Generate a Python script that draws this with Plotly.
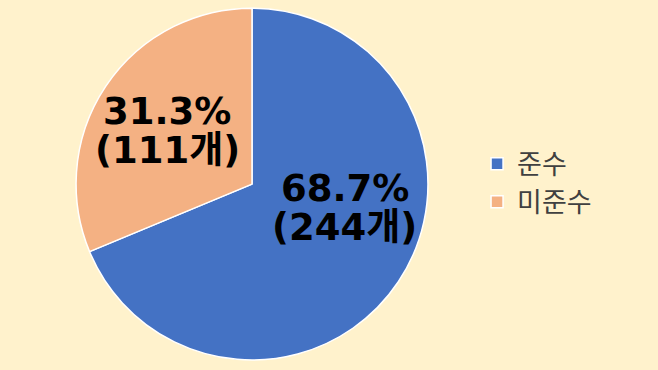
import plotly.graph_objects as go

labels = ["준수", "미준수"]
counts = [244, 111]
colors = ["#4472C4", "#F4B183"]

total = sum(counts)
pcts = [c / total * 100 for c in counts]

fig = go.Figure()
fig.add_trace(go.Pie(
    labels=labels,
    values=counts,
    sort=False,
    direction="clockwise",
    rotation=0,
    marker=dict(colors=colors, line=dict(color="white", width=1.5)),
    textinfo="none",
    domain=dict(x=[0.1155, 0.6505], y=[0.027, 0.978]),
    hoverinfo="skip",
))

# label anchor positions (paper coords) for each slice: (x, y of line 1, y of line 2)
label_pos = [(0.524, 0.492, 0.386), (0.2538, 0.700, 0.595)]
lab_font = dict(family="DejaVu Sans, Noto Sans CJK KR", size=37, color="black", weight="bold")
for c, p, (lx, ly1, ly2) in zip(counts, pcts, label_pos):
    fig.add_annotation(x=lx, y=ly1, xref="paper", yref="paper", text=f"{p:.1f}%",
                       showarrow=False, font=lab_font, xanchor="center", yanchor="middle",
                       height=38, borderpad=0)
    fig.add_annotation(x=lx, y=ly2, xref="paper", yref="paper", text=f"({c}개)",
                       showarrow=False, font=lab_font, xanchor="center", yanchor="middle",
                       height=38, borderpad=0)

fig.update_layout(
    width=658, height=370,
    margin=dict(l=0, r=0, t=0, b=0),
    paper_bgcolor="#FFF2CC",
    plot_bgcolor="#FFF2CC",
    showlegend=True,
    legend=dict(
        x=0.725, y=0.505, xanchor="left", yanchor="middle",
        font=dict(family="Noto Sans CJK KR", size=27, color="#404040"),
        bgcolor="rgba(0,0,0,0)",
        tracegroupgap=0,
    ),
)

fig.write_html("out.html")
